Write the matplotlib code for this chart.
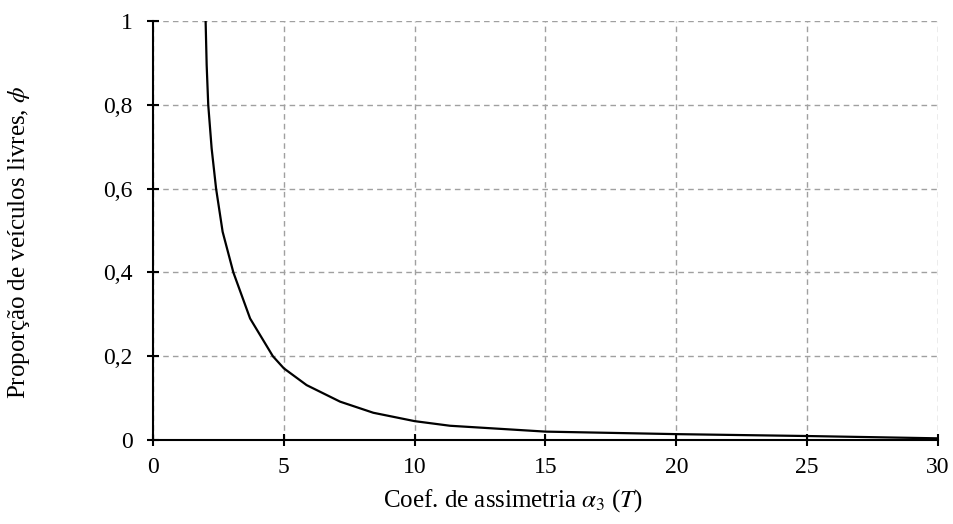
import matplotlib
matplotlib.use("Agg")
import matplotlib.pyplot as plt

plt.rcParams["font.family"] = ["Liberation Serif", "DejaVu Serif"]
plt.rcParams["mathtext.fontset"] = "stix"

# values
alpha3 = [2.01, 2.05, 2.11, 2.24, 2.41, 2.66, 3.07, 3.71, 4.58, 5.0,
          5.87, 7.15, 8.42, 10.0, 11.35, 15.0, 20.0, 25.0, 30.0]
phi = [1.0, 0.895, 0.8, 0.696, 0.6, 0.497, 0.40, 0.29, 0.2, 0.171,
       0.131, 0.0915, 0.065, 0.045, 0.034, 0.020, 0.014, 0.0095, 0.004]

xticks = [0, 5, 10, 15, 20, 25, 30]
yticks = [0, 0.2, 0.4, 0.6, 0.8, 1]
yticklabels = ["0", "0,2", "0,4", "0,6", "0,8", "1"]

fig = plt.figure(figsize=(9.54, 5.24), dpi=100)
ax = fig.add_axes([0.1604, 0.1603, 0.8228, 0.7997])

ax.plot(alpha3, phi, color="black", lw=1.6, solid_joinstyle="round")

ax.set_xlim(0, 30)
ax.set_ylim(0, 1)
ax.set_xticks(xticks)
ax.set_yticks(yticks)
ax.set_yticklabels(yticklabels)
ax.grid(True, color="#a0a0a0", linestyle=(0, (4, 3)), lw=1.0)
ax.set_axisbelow(True)

for s in ["top", "right"]:
    ax.spines[s].set_visible(False)
for s in ["left", "bottom"]:
    ax.spines[s].set_linewidth(1.5)
    ax.spines[s].set_zorder(3)

ax.tick_params(axis="both", direction="inout", length=9, width=1.5, labelsize=17)
ax.tick_params(axis="x", pad=8)
ax.tick_params(axis="y", pad=10)

ax.set_xlabel(r"Coef. de assimetria $\alpha_3$ ($T$)", fontsize=18)
ax.set_ylabel(r"Proporção de veículos livres, $\phi$", fontsize=18)
ax.xaxis.set_label_coords(0.459, -0.112)
ax.yaxis.set_label_coords(-0.154, 0.4726)

fig.savefig("out.png", dpi=100)
